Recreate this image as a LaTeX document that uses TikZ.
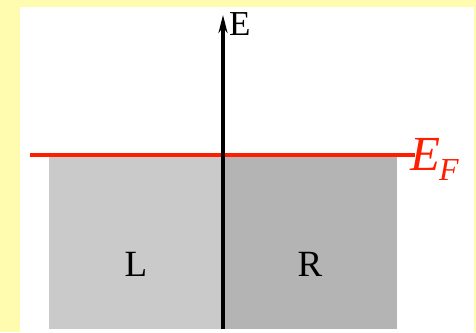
\documentclass[tikz,border=0pt]{standalone}
\usepackage{fontspec}
\setmainfont{Liberation Serif}
\usetikzlibrary{positioning, arrows.meta, calc}

\definecolor{bgyellow}{RGB}{255,252,175}
\definecolor{leftgray}{RGB}{202,202,202}
\definecolor{rightgray}{RGB}{180,180,180}
\definecolor{fermired}{RGB}{255,30,0}

\begin{document}
\begin{tikzpicture}[
    x=1pt, y=-1pt,
    >={Stealth[length=18pt, width=9pt]},
    band/.style={draw=none, inner sep=0pt, outer sep=0pt,
                 minimum width=174pt, minimum height=173pt},
    side/.style={font=\fontsize{37}{37}\selectfont, inner sep=0pt},
    axis/.style={line width=4pt},
    fermi/.style={draw=fermired, line width=4pt}
]

%---------------- frame ----------------
\fill[bgyellow] (0,0) rectangle (476,332);
\fill[white] (20,7) rectangle (474,332);

%---------------- two electrodes ----------------
\node[band, fill=leftgray, anchor=north west] (boxL) at (49,156) {};
\node[band, fill=rightgray, anchor=north west] (boxR) at (boxL.north east) {};

\node[side, yshift=-21.5pt] (labL) at (boxL.center) {L};
\node[side, yshift=-21.5pt] (labR) at (boxR.center) {R};

%---------------- Fermi level ----------------
\coordinate (efL) at (30,155);
\coordinate (efR) at (415,155);
\draw[fermi] (efL) -- (efR);
\node[anchor=base west, inner sep=0pt, text=fermired,
      font=\fontsize{49}{49}\selectfont\itshape] (EF) at (410,170)
      {E\kern-1pt\raisebox{-10pt}{\fontsize{32}{32}\selectfont F}};

%---------------- energy axis ----------------
\coordinate (axisBot) at (boxL.south east);
\coordinate (axisTop) at (223,15);
\draw[axis, ->] (axisBot) -- (axisTop);
\node[side, anchor=west, font=\fontsize{35}{35}\selectfont] (Elab) at (229,24.5) {E};

\end{tikzpicture}
\end{document}
